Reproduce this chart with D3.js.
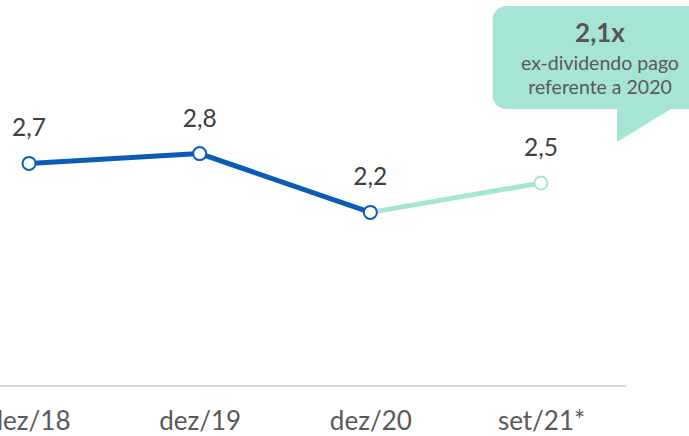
<!DOCTYPE html>
<html>
<head>
<meta charset="utf-8">
<script src="https://cdn.jsdelivr.net/npm/d3@7/dist/d3.min.js"></script>
<style>
  html, body { margin: 0; padding: 0; background: #ffffff; }
  svg { display: block; font-family: Lato, "Open Sans", sans-serif; }
</style>
</head>
<body>
<svg id="chart" width="689" height="436"></svg>
<script>
// Dividend coverage by period
const categories = ["dez/18", "dez/19", "dez/20", "set/21*"];
const values = [2.7, 2.8, 2.2, 2.5];
const actualCount = 3; // periods up to dez/20 are closed; the last one is partial

const calloutTitle = "2,1x";
const calloutLines = ["ex-dividendo pago", "referente a 2020"];

const blue = "#0b5cb6";
const teal = "#a6e5d5";
const textGray = "#595959";

const svg = d3.select("#chart");

const locale = d3.formatLocale({ decimal: ",", thousands: ".", grouping: [3], currency: ["R$", ""] });
const fmt = locale.format(".1f");

const x = d3.scalePoint().domain(categories).range([-56.3, 626.3]).padding(0.5);
const y = d3.scaleLinear().domain([0, 4]).range([428, 36]);
const axisY = 386;

// category axis
const axis = svg.append("g")
  .attr("transform", `translate(0,${axisY})`)
  .call(d3.axisBottom(x).tickSize(0).tickSizeOuter(0).tickPadding(26));
axis.select(".domain")
  .attr("d", `M${x.range()[0]},0H${x.range()[1]}`)
  .attr("stroke", "#d9d9d9").attr("stroke-width", 2);
axis.selectAll("text")
  .attr("font-family", "Lato, 'Open Sans', sans-serif")
  .attr("font-size", 26)
  .attr("fill", textGray);

const pts = categories.map((c, i) => ({ c, v: values[i], i }));
const line = d3.line().x(d => x(d.c)).y(d => y(d.v));

// closed periods
svg.append("path")
  .datum(pts.slice(0, actualCount))
  .attr("d", line)
  .attr("fill", "none").attr("stroke", blue).attr("stroke-width", 5);

// partial period
svg.append("path")
  .datum(pts.slice(actualCount - 1))
  .attr("d", line)
  .attr("fill", "none").attr("stroke", teal).attr("stroke-width", 5);

// markers (draw the partial one first so the dez/20 marker sits on top)
svg.selectAll("circle.pt")
  .data(pts.slice().reverse())
  .join("circle")
  .attr("class", "pt")
  .attr("cx", d => x(d.c))
  .attr("cy", d => y(d.v))
  .attr("r", 6.5)
  .attr("fill", "#ffffff")
  .attr("stroke", d => d.i < actualCount ? blue : teal)
  .attr("stroke-width", 2);

// value labels
svg.selectAll("text.val")
  .data(pts)
  .join("text")
  .attr("class", "val")
  .attr("x", d => x(d.c))
  .attr("y", d => y(d.v) - 27)
  .attr("text-anchor", "middle")
  .attr("font-size", 24.5)
  .attr("fill", "#404040")
  .text(d => fmt(d.v));

// speech-bubble callout
const bx0 = 492.5, by0 = 6, bx1 = 705, by1 = 109, r = 14;
const tailL = 617, tailR = 671, tailTipY = 142;
const p = d3.path();
p.moveTo(bx0 + r, by0);
p.lineTo(bx1, by0);
p.lineTo(bx1, by1);
p.lineTo(tailR, by1);
p.lineTo(tailL, tailTipY);
p.lineTo(tailL, by1);
p.lineTo(bx0 + r, by1);
p.arcTo(bx0, by1, bx0, by1 - r, r);
p.lineTo(bx0, by0 + r);
p.arcTo(bx0, by0, bx0 + r, by0, r);
p.closePath();
svg.append("path").attr("d", p.toString()).attr("fill", teal);

const cx = 600;
svg.append("text")
  .attr("x", cx).attr("y", 41.5)
  .attr("text-anchor", "middle")
  .attr("font-size", 26).attr("font-weight", "bold")
  .attr("fill", "#555555")
  .text(calloutTitle);
svg.selectAll("text.cl")
  .data(calloutLines)
  .join("text")
  .attr("class", "cl")
  .attr("x", cx)
  .attr("y", (d, i) => 70 + i * 24)
  .attr("text-anchor", "middle")
  .attr("font-size", 19.5)
  .attr("fill", textGray)
  .text(d => d);
</script>
</body>
</html>
